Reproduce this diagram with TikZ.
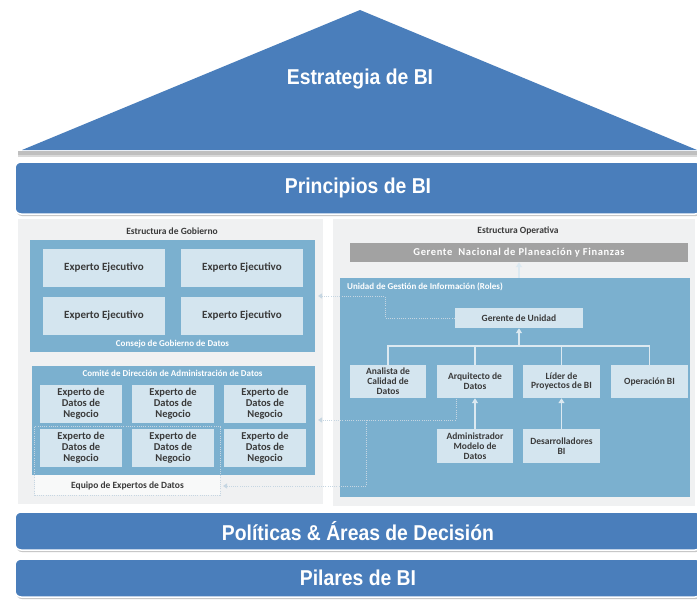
\documentclass[tikz,border=0pt]{standalone}
\usepackage{fontspec}
\setmainfont{Carlito}
\newfontfamily\bandfont[FakeStretch=0.9]{Liberation Sans}
\newfontfamily\widefont[LetterSpace=6]{Carlito}
\usetikzlibrary{arrows.meta,shadows}
\definecolor{bandblue}{HTML}{4A7EBB}
\definecolor{panelblue}{HTML}{7BB0CF}
\definecolor{boxblue}{HTML}{D4E5EF}
\definecolor{panelgray}{HTML}{F0F1F2}
\definecolor{mgray}{HTML}{A2A2A2}
\definecolor{txt}{HTML}{3A3A3A}
\definecolor{linec}{HTML}{DCE9F1}
\definecolor{dotc}{HTML}{C6D6E2}
\tikzset{
  band/.style={fill=bandblue, draw=white, line width=1.5pt, rounded corners=6pt,
    text=white, inner sep=0pt, font=\bandfont\bfseries\fontsize{21.5}{24}\selectfont,
    drop shadow={shadow xshift=1pt, shadow yshift=-2pt, fill=gray!55, opacity=0.8}},
  bandtxt/.style={text=white, inner sep=0pt, font=\bandfont\bfseries\fontsize{21.5}{24}\selectfont},
  bluepanel/.style={fill=panelblue, draw=none, inner sep=0pt},
  ebox/.style={fill=boxblue, draw=none, inner sep=0pt, align=center, text=txt,
    font=\bfseries\fontsize{11}{11.5}\selectfont},
  nbox/.style={fill=boxblue, draw=none, inner sep=0pt, align=center, text=txt,
    minimum width=82pt, minimum height=38pt, font=\bfseries\fontsize{10.5}{11}\selectfont},
  tbox/.style={fill=boxblue, draw=none, inner sep=0pt, align=center, text=txt,
    minimum height=33pt, font=\bfseries\fontsize{9.5}{9.8}\selectfont},
  title/.style={inner sep=0pt, text=txt, font=\bfseries\fontsize{9.5}{10}\selectfont},
  wtitle/.style={inner sep=0pt, text=white, font=\bfseries\fontsize{9}{10}\selectfont},
  treeline/.style={draw=linec, line width=1.2pt},
  treearrow/.style={draw=linec, line width=1.2pt, -{Triangle[width=6pt,length=5pt]}},
  dotline/.style={draw=dotc, line width=1pt, dash pattern=on 1pt off 1.2pt},
  dotarrow/.style={dotline, -{Triangle[width=5pt,length=4pt]}},
}
\begin{document}
\begin{tikzpicture}[x=1pt,y=-1pt]
\useasboundingbox (0,0) rectangle (697,602);
\clip (0,0) rectangle (697,602);
\fill[white] (0,0) rectangle (697,602);
% roof
\fill[bandblue] (22,150) -- (360,10) -- (697,150) -- cycle;
\node[bandtxt] (strat) at (360,79) {Estrategia de BI};
\fill[gray!50] (18,151) rectangle (697,155);
\fill[white!70!gray] (18,155) rectangle (697,157);
% Principios
\node[band, minimum width=686pt, minimum height=52pt] (princ) at (358,188) {Principios de BI};
% middle panels
\fill[panelgray] (18,219) rectangle (323,504);
\fill[panelgray] (333,219) rectangle (695,506);
% ---- left: gobierno
\node[title] (egob) at (172,231) {Estructura de Gobierno};
\node[bluepanel, minimum width=285pt, minimum height=112pt] (consejo) at (172.5,296) {};
\node[ebox, minimum width=122pt, minimum height=38pt] (e1) at (104,268) {Experto Ejecutivo};
\node[ebox, minimum width=122pt, minimum height=38pt] (e2) at (242,268) {Experto Ejecutivo};
\node[ebox, minimum width=122pt, minimum height=38pt] (e3) at (104,315.5) {Experto Ejecutivo};
\node[ebox, minimum width=122pt, minimum height=38pt] (e4) at (242,315.5) {Experto Ejecutivo};
\node[wtitle] (lconsejo) at (172.5,344) {Consejo de Gobierno de Datos};
% comite
\node[inner sep=0pt, fill=white!55!panelgray, minimum width=185pt, minimum height=68pt] (equipo) at (127.5,461) {};
\node[bluepanel, minimum width=283pt, minimum height=109pt] (comite) at (173.5,420.5) {};
\node[wtitle] (lcomite) at (172.5,373.5) {Comité de Dirección de Administración de Datos};
\node[nbox] (n1) at (81,404) {Experto de\\Datos de\\Negocio};
\node[nbox] (n2) at (173,404) {Experto de\\Datos de\\Negocio};
\node[nbox] (n3) at (265,404) {Experto de\\Datos de\\Negocio};
\node[nbox] (n4) at (81,448) {Experto de\\Datos de\\Negocio};
\node[nbox] (n5) at (173,448) {Experto de\\Datos de\\Negocio};
\node[nbox] (n6) at (265,448) {Experto de\\Datos de\\Negocio};
\draw[dotline] (equipo.north west) rectangle (equipo.south east);
\node[title] (lequipo) at (127.5,486) {Equipo de Expertos de Datos};
% ---- right: operativa
\node[title] (eop) at (518,231) {Estructura Operativa};
\node[fill=mgray, inner sep=0pt, minimum width=338pt, minimum height=19pt, text=white,
  font=\widefont\bfseries\fontsize{10.5}{11}\selectfont] (gnac) at (519,252.5) {Gerente\ \ Nacional de Planeación y Finanzas};
\node[bluepanel, minimum width=350pt, minimum height=219pt] (unidad) at (515,387.5) {};
\node[wtitle, anchor=west] (lunidad) at (347,287) {Unidad de Gestión de Información (Roles)};
\node[ebox, minimum width=128pt, minimum height=20pt, font=\bfseries\fontsize{9.5}{10}\selectfont] (gu) at (519,318) {Gerente de Unidad};
\node[tbox, minimum width=76pt] (anal) at (388,381.5) {Analista de\\Calidad de\\Datos};
\node[tbox, minimum width=76pt] (arq) at (475,381.5) {Arquitecto de\\Datos};
\node[tbox, minimum width=77pt] (lider) at (561.5,381.5) {Líder de\\Proyectos de BI};
\node[tbox, minimum width=77pt] (oper) at (649.5,381.5) {Operación BI};
\node[tbox, minimum width=76pt, minimum height=34pt] (adm) at (475,446) {Administrador\\Modelo de\\Datos};
\node[tbox, minimum width=77pt, minimum height=34pt] (des) at (561.5,446) {Desarrolladores\\BI};
% tree connectors
\coordinate (jn) at (519,346);
\draw[treeline] (anal.north) -- (anal.north |- jn) -- (oper.north |- jn) -- (oper.north);
\draw[treeline] (arq.north) -- (arq.north |- jn);
\draw[treeline] (lider.north) -- (lider.north |- jn);
\draw[treearrow] (gu.south |- jn) -- (gu.south);
\draw[treearrow] (adm.north) -- (arq.south);
\draw[treearrow] (des.north) -- (lider.south);
\draw[treearrow] (gnac.south |- unidad.north) -- (gnac.south);
% dotted connectors
\coordinate (c1) at (318,296);
\coordinate (a1) at (456,398.5);
\coordinate (c2) at (318,420);
\coordinate (c3) at (223,486);
\draw[dotarrow] (gu.west) -- (385,318) -- (385,296) -- (c1);
\draw[dotarrow] (a1) -- (456,420) -- (c2);
\draw[dotarrow] (366,420) -- (366,486) -- (c3);
% bottom bands
\node[band, minimum width=686pt, minimum height=38pt] (polit) at (358,531) {Políticas \& Áreas de Decisión};
\node[band, minimum width=686pt, minimum height=38pt] (pilar) at (358,578) {Pilares de BI};
\end{tikzpicture}
\end{document}
